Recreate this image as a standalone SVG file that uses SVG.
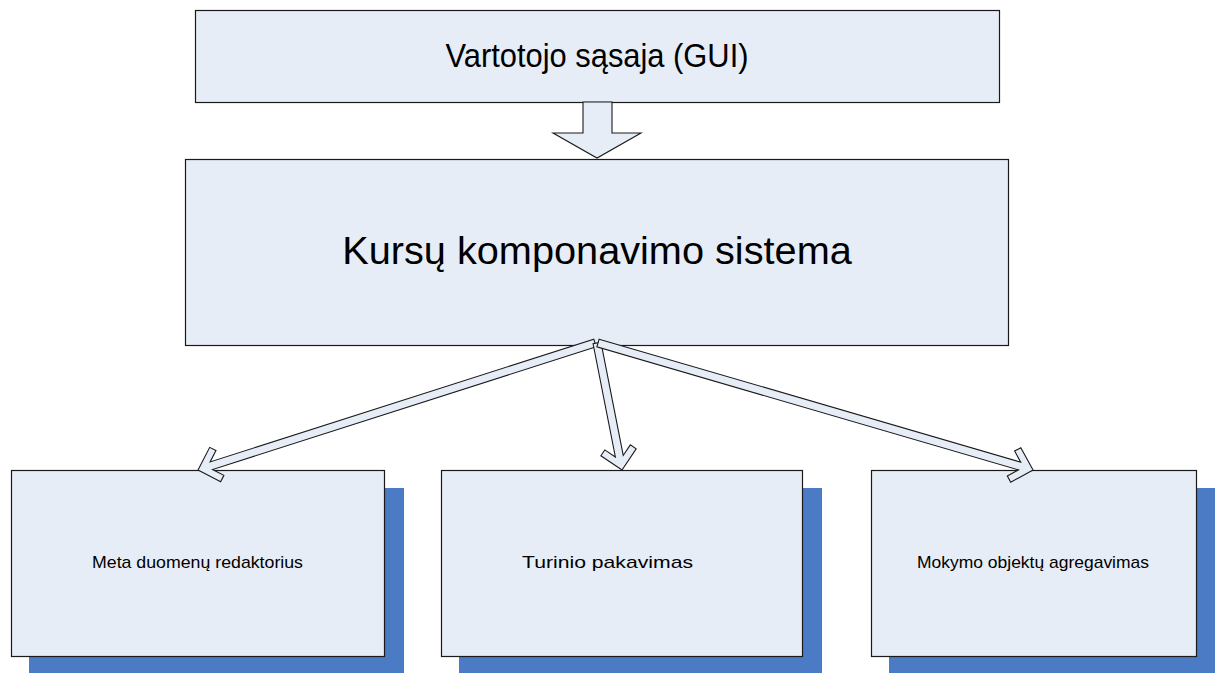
<svg xmlns="http://www.w3.org/2000/svg" width="1215" height="673" viewBox="0 0 1215 673">
  <style>
    .box { fill: #e7edf7; stroke: #1a1a1a; stroke-width: 1.2; }
    .shadow { fill: #4a7bc4; stroke: none; }
    .arrow { fill: #e7edf7; stroke: #1a1a1a; stroke-width: 1.1; stroke-linejoin: miter; }
    .label { font-family: "Liberation Sans", Arial, sans-serif; fill: #000; text-anchor: middle; }
    .small { font-size: 17px; }
  </style>
  <rect width="1215" height="673" fill="#ffffff"/>

  <g id="gui">
    <rect class="box" x="195.5" y="10.5" width="804" height="92"/>
    <text class="label" x="597" y="67" font-size="33" textLength="303" lengthAdjust="spacingAndGlyphs">Vartotojo sąsaja (GUI)</text>
  </g>

  <g id="kursu-sistema">
    <rect class="box" x="185.5" y="159.5" width="823" height="186"/>
    <text class="label" x="597" y="264" font-size="39.7">Kursų komponavimo sistema</text>
  </g>

  <g id="meta-redaktorius">
    <rect class="shadow" x="29" y="488" width="375" height="185"/>
    <rect class="box" x="11.5" y="470.5" width="373" height="186"/>
    <text class="label small" x="197.5" y="568" textLength="211" lengthAdjust="spacingAndGlyphs">Meta duomenų redaktorius</text>
  </g>

  <g id="turinio-pakavimas">
    <rect class="shadow" x="459" y="488" width="363" height="185"/>
    <rect class="box" x="441.5" y="470.5" width="361" height="186"/>
    <text class="label small" x="607.5" y="568" textLength="171" lengthAdjust="spacingAndGlyphs">Turinio pakavimas</text>
  </g>

  <g id="mokymo-agregavimas">
    <rect class="shadow" x="889" y="488" width="326" height="185"/>
    <rect class="box" x="871.5" y="470.5" width="325" height="186"/>
    <text class="label small" x="1033" y="568" textLength="232" lengthAdjust="spacingAndGlyphs">Mokymo objektų agregavimas</text>
  </g>

  <g id="connectors">
    <!-- block arrow from GUI down to the system -->
    <polygon class="arrow" points="583,102 612,102 612,133 641,133 597,158 553,133 583,133"/>
    <!-- chevron arrows from the system to the three modules -->
    <polygon class="arrow" transform="translate(595,343) rotate(162.26)" points="0,-4 402.8,-4 393.8,-13 398.8,-18 416.8,0 398.8,18 393.8,13 402.8,4 0,4"/>
    <polygon class="arrow" transform="translate(597,343) rotate(78.86)" points="0,-4 115.4,-4 106.4,-13 111.4,-18 129.4,0 111.4,18 106.4,13 115.4,4 0,4"/>
    <polygon class="arrow" transform="translate(598,343) rotate(16.27)" points="0,-4 439.2,-4 430.2,-13 435.2,-18 453.2,0 435.2,18 430.2,13 439.2,4 0,4"/>
  </g>
</svg>
